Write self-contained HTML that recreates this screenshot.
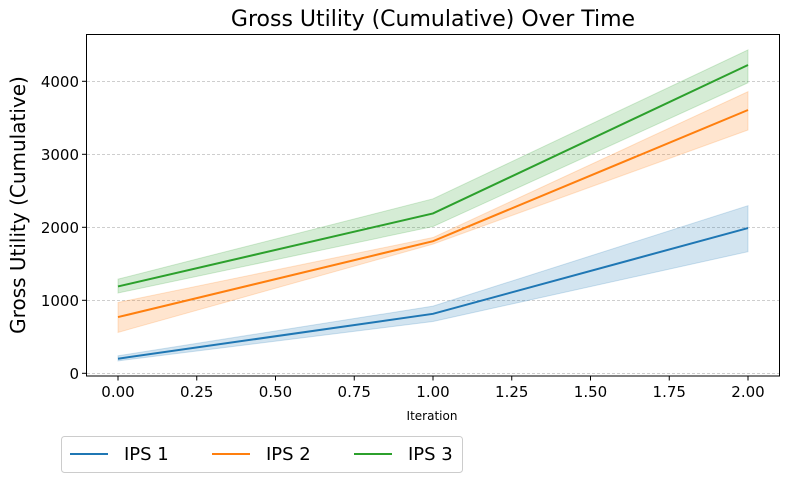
<!DOCTYPE html>
<html><head><meta charset="utf-8"><style>
body{margin:0;background:#fff;}
svg{font-family:"DejaVu Sans","Liberation Sans",sans-serif;}
</style></head><body>
<svg id="chart" width="789" height="482">
<rect x="0" y="0" width="789" height="482" fill="#fff"/>
<g id="grid"></g>
<g id="bands"></g>
<g id="lines"></g>
<rect x="86.5" y="34.5" width="693" height="341.5" fill="none" stroke="#000" stroke-width="1"/>
<g id="xticks"></g>
<g id="yticks"></g>
<text x="433" y="26" text-anchor="middle" font-size="22">Gross Utility (Cumulative) Over Time</text>
<text x="432" y="420" text-anchor="middle" font-size="12">Iteration</text>
<text transform="translate(25,205) rotate(-90)" text-anchor="middle" font-size="20">Gross Utility (Cumulative)</text>
<g id="legend">
<rect x="61.5" y="436.5" width="401" height="36" rx="3" fill="#fff" stroke="#ccc"/>
</g>
</svg>
<script>
const xs=[0,1,2];
const seriesNames=["IPS 1","IPS 2","IPS 3"];
const colors=["#1f77b4","#ff7f0e","#2ca02c"];
const meanIPS1=[200,815,1990];
const lowIPS1=[170,710,1666];
const highIPS1=[240,920,2296];
const meanIPS2=[770,1810,3607];
const lowIPS2=[560,1770,3333];
const highIPS2=[970,1860,3858];
const meanIPS3=[1190,2190,4223];
const lowIPS3=[1100,2010,3980];
const highIPS3=[1290,2390,4430];
const xTicks=[0,0.25,0.5,0.75,1,1.25,1.5,1.75,2];
const yTicks=[0,1000,2000,3000,4000];

const NS="http://www.w3.org/2000/svg";
const X=v=>118+v*(748-118)/2;
const Y=v=>373.3-v*0.073;
function mk(tag,attrs,parent){const e=document.createElementNS(NS,tag);for(const k in attrs)e.setAttribute(k,attrs[k]);parent.appendChild(e);return e;}
const grid=document.getElementById('grid'),bands=document.getElementById('bands'),lines=document.getElementById('lines');
const xt=document.getElementById('xticks'),yt=document.getElementById('yticks'),leg=document.getElementById('legend');
yTicks.forEach(t=>{
 const y=Y(t);
 const g=mk('line',{x1:87,x2:779,y1:y,y2:y,stroke:'#b0b0b0','stroke-width':0.7,'stroke-dasharray':'3,2'},grid);
 
 
 mk('line',{x1:82,x2:86.5,y1:y,y2:y,stroke:'#000'},yt);
 const tx=mk('text',{x:79,y:y+5.5,'text-anchor':'end','font-size':15},yt);
 tx.textContent=t;
 
 
});
xTicks.forEach(t=>{
 const x=X(t);
 mk('line',{x1:x,x2:x,y1:376,y2:380.5,stroke:'#000'},xt);
 const tx=mk('text',{x:x,y:397,'text-anchor':'middle','font-size':15},xt);
 tx.textContent=t.toFixed(2);
 
 
});
const data=[[meanIPS1,lowIPS1,highIPS1],[meanIPS2,lowIPS2,highIPS2],[meanIPS3,lowIPS3,highIPS3]];
data.forEach((d,i)=>{
 const [m,lo,hi]=d;
 let pts=xs.map((x,j)=>X(x)+','+Y(hi[j]));
 pts=pts.concat(xs.map((x,j)=>X(x)+','+Y(lo[j])).reverse());
 const b=mk('polygon',{points:pts.join(' '),fill:colors[i],'fill-opacity':0.2,stroke:colors[i],'stroke-opacity':0.2},bands);
 
 
 const l=mk('polyline',{points:xs.map((x,j)=>X(x)+','+Y(m[j])).join(' '),fill:'none',stroke:colors[i],'stroke-width':2},lines);
 
 
 const lx=70+i*142;
 const ll=mk('line',{x1:lx,x2:lx+38,y1:454,y2:454,stroke:colors[i],'stroke-width':2},leg);
 
 
 const lt=mk('text',{x:lx+54,y:460,'font-size':18},leg);
 lt.textContent=seriesNames[i];
 
 
});
</script>
</body></html>
